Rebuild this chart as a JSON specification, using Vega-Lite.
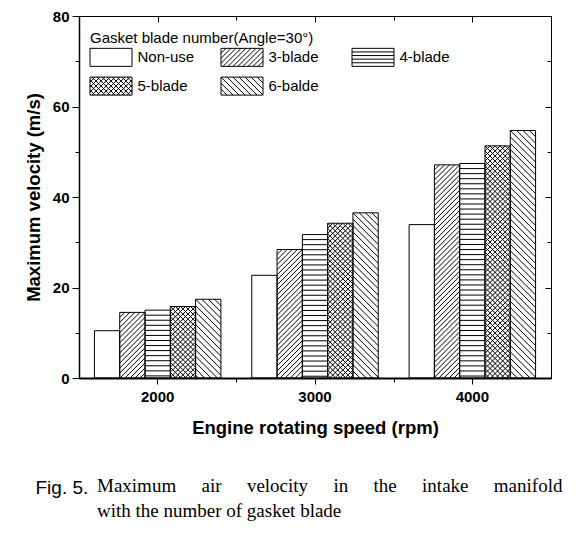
{
  "$schema": "https://vega.github.io/schema/vega-lite/v6.json",
  "autosize": "none",
  "padding": {"left": 79, "top": 16, "right": 31, "bottom": 155},
  "width": 472,
  "height": 362,
  "config": {
    "font": "Liberation Sans",
    "view": {"stroke": "black", "strokeWidth": 1}
  },
  "title": {
    "text": ["Maximum\u2003\u2004air\u2003\u2004velocity\u2003\u2004in\u2003\u2004the\u2003\u2004intake\u2003\u2004manifold", "with the number of gasket blade"],
    "orient": "bottom",
    "anchor": "start",
    "frame": "group",
    "dx": 18,
    "offset": -20,
    "font": "Liberation Serif",
    "fontSize": 19,
    "fontWeight": "normal",
    "color": "black",
    "lineHeight": 25
  },
  "data": {
    "values": [
      {"speed": 2000, "blade": "Non-use", "value": 10.45},
      {"speed": 2000, "blade": "3-blade", "value": 14.5},
      {"speed": 2000, "blade": "4-blade", "value": 15.0},
      {"speed": 2000, "blade": "5-blade", "value": 15.8},
      {"speed": 2000, "blade": "6-balde", "value": 17.4},
      {"speed": 3000, "blade": "Non-use", "value": 22.7},
      {"speed": 3000, "blade": "3-blade", "value": 28.4},
      {"speed": 3000, "blade": "4-blade", "value": 31.7},
      {"speed": 3000, "blade": "5-blade", "value": 34.2},
      {"speed": 3000, "blade": "6-balde", "value": 36.5},
      {"speed": 4000, "blade": "Non-use", "value": 33.9},
      {"speed": 4000, "blade": "3-blade", "value": 47.1},
      {"speed": 4000, "blade": "4-blade", "value": 47.4},
      {"speed": 4000, "blade": "5-blade", "value": 51.3},
      {"speed": 4000, "blade": "6-balde", "value": 54.7}
    ]
  },
  "resolve": {"scale": {"x": "independent", "y": "independent"}},
  "layer": [
    {
      "encoding": {
        "x": {
          "field": "speed", "type": "ordinal",
          "scale": {"type": "band", "paddingInner": 0, "paddingOuter": 0},
          "axis": {
            "title": "Engine rotating speed (rpm)",
            "titleFontSize": 18.5, "titleFontWeight": "bold", "titleColor": "black", "titlePadding": 14,
            "labelFontSize": 15, "labelFontWeight": "bold", "labelColor": "black", "labelAngle": 0, "labelPadding": 5,
            "tickSize": 6, "tickColor": "black", "tickWidth": 1,
            "domainColor": "black", "domainWidth": 2, "grid": false, "zindex": 1
          }
        },
        "xOffset": {
          "field": "blade", "type": "nominal",
          "scale": {"type": "band", "domain": ["Non-use", "3-blade", "4-blade", "5-blade", "6-balde"], "paddingInner": 0, "paddingOuter": 0.61}
        },
        "y": {
          "field": "value", "type": "quantitative",
          "scale": {"domain": [0, 80], "nice": false},
          "axis": {
            "title": "Maximum velocity (m/s)",
            "titleFontSize": 18.5, "titleFontWeight": "bold", "titleColor": "black", "titlePadding": 9,
            "values": [0, 20, 40, 60, 80],
            "labelFontSize": 15, "labelFontWeight": "bold", "labelColor": "black", "labelPadding": 3,
            "tickSize": 7, "tickColor": "black", "tickWidth": 1,
            "domainColor": "black", "domainWidth": 1.5, "grid": false, "zindex": 1
          }
        }
      },
      "layer": [
        {"mark": {"type": "bar", "fill": "white", "strokeWidth": 0}},
        {
          "transform": [{"filter": "datum.blade === '3-blade'"}],
          "mark": {"type": "point", "clip": true, "filled": false, "opacity": 1, "size": 4, "stroke": "black", "strokeWidth": 1,
            "shape": "M-12.65 5.06l5.06-5.06M-12.65 10.12l10.12-10.12M-12.65 15.18l15.18-15.18M-12.65 20.24l20.24-20.24M-12.65 25.3l25.3-25.3m-25.3 30.36l25.3-25.3m-25.3 30.36l25.3-25.3m-25.3 30.36l25.3-25.3m-25.3 30.36l25.3-25.3m-25.3 30.36l25.3-25.3m-25.3 30.36l25.3-25.3m-25.3 30.36l25.3-25.3m-25.3 30.36l25.3-25.3m-25.3 30.36l25.3-25.3m-25.3 30.36l25.3-25.3m-25.3 30.36l25.3-25.3m-25.3 30.36l25.3-25.3m-25.3 30.36l25.3-25.3m-25.3 30.36l25.3-25.3m-25.3 30.36l25.3-25.3m-25.3 30.36l25.3-25.3m-25.3 30.36l25.3-25.3m-25.3 30.36l25.3-25.3m-25.3 30.36l25.3-25.3m-25.3 30.36l25.3-25.3m-25.3 30.36l25.3-25.3m-25.3 30.36l25.3-25.3m-25.3 30.36l25.3-25.3m-25.3 30.36l25.3-25.3m-25.3 30.36l25.3-25.3m-25.3 30.36l25.3-25.3m-25.3 30.36l25.3-25.3m-25.3 30.36l25.3-25.3m-25.3 30.36l25.3-25.3m-25.3 30.36l25.3-25.3m-25.3 30.36l25.3-25.3m-25.3 30.36l25.3-25.3m-25.3 30.36l25.3-25.3m-25.3 30.36l25.3-25.3m-25.3 30.36l25.3-25.3m-25.3 30.36l25.3-25.3m-25.3 30.36l25.3-25.3m-25.3 30.36l25.3-25.3m-25.3 30.36l25.3-25.3m-25.3 30.36l25.3-25.3m-25.3 30.36l25.3-25.3m-25.3 30.36l25.3-25.3m-25.3 30.36l25.3-25.3m-25.3 30.36l25.3-25.3m-25.3 30.36l25.3-25.3m-25.3 30.36l25.3-25.3m-25.3 30.36l25.3-25.3m-25.3 30.36l25.3-25.3m-25.3 30.36l25.3-25.3m-25.3 30.36l25.3-25.3"}
        },
        {
          "transform": [{"filter": "datum.blade === '4-blade'"}],
          "mark": {"type": "point", "clip": true, "filled": false, "opacity": 1, "size": 4, "stroke": "black", "strokeWidth": 1,
            "shape": "M-12.65 5.06h25.3m-25.3 5.06h25.3m-25.3 5.06h25.3m-25.3 5.06h25.3m-25.3 5.06h25.3m-25.3 5.06h25.3m-25.3 5.06h25.3m-25.3 5.06h25.3m-25.3 5.06h25.3m-25.3 5.06h25.3m-25.3 5.06h25.3m-25.3 5.06h25.3m-25.3 5.06h25.3m-25.3 5.06h25.3m-25.3 5.06h25.3m-25.3 5.06h25.3m-25.3 5.06h25.3m-25.3 5.06h25.3m-25.3 5.06h25.3m-25.3 5.06h25.3m-25.3 5.06h25.3m-25.3 5.06h25.3m-25.3 5.06h25.3m-25.3 5.06h25.3m-25.3 5.06h25.3m-25.3 5.06h25.3m-25.3 5.06h25.3m-25.3 5.06h25.3m-25.3 5.06h25.3m-25.3 5.06h25.3m-25.3 5.06h25.3m-25.3 5.06h25.3m-25.3 5.06h25.3m-25.3 5.06h25.3m-25.3 5.06h25.3m-25.3 5.06h25.3m-25.3 5.06h25.3m-25.3 5.06h25.3m-25.3 5.06h25.3m-25.3 5.06h25.3m-25.3 5.06h25.3m-25.3 5.06h25.3m-25.3 5.06h25.3m-25.3 5.06h25.3m-25.3 5.06h25.3m-25.3 5.06h25.3"}
        },
        {
          "transform": [{"filter": "datum.blade === '5-blade'"}],
          "mark": {"type": "point", "clip": true, "filled": false, "opacity": 1, "size": 4, "stroke": "black", "strokeWidth": 1,
            "shape": "M-12.65 5.06l5.06-5.06M-12.65 10.12l10.12-10.12M-12.65 15.18l15.18-15.18M-12.65 20.24l20.24-20.24M-12.65 25.3l25.3-25.3m-25.3 30.36l25.3-25.3m-25.3 30.36l25.3-25.3m-25.3 30.36l25.3-25.3m-25.3 30.36l25.3-25.3m-25.3 30.36l25.3-25.3m-25.3 30.36l25.3-25.3m-25.3 30.36l25.3-25.3m-25.3 30.36l25.3-25.3m-25.3 30.36l25.3-25.3m-25.3 30.36l25.3-25.3m-25.3 30.36l25.3-25.3m-25.3 30.36l25.3-25.3m-25.3 30.36l25.3-25.3m-25.3 30.36l25.3-25.3m-25.3 30.36l25.3-25.3m-25.3 30.36l25.3-25.3m-25.3 30.36l25.3-25.3m-25.3 30.36l25.3-25.3m-25.3 30.36l25.3-25.3m-25.3 30.36l25.3-25.3m-25.3 30.36l25.3-25.3m-25.3 30.36l25.3-25.3m-25.3 30.36l25.3-25.3m-25.3 30.36l25.3-25.3m-25.3 30.36l25.3-25.3m-25.3 30.36l25.3-25.3m-25.3 30.36l25.3-25.3m-25.3 30.36l25.3-25.3m-25.3 30.36l25.3-25.3m-25.3 30.36l25.3-25.3m-25.3 30.36l25.3-25.3m-25.3 30.36l25.3-25.3m-25.3 30.36l25.3-25.3m-25.3 30.36l25.3-25.3m-25.3 30.36l25.3-25.3m-25.3 30.36l25.3-25.3m-25.3 30.36l25.3-25.3m-25.3 30.36l25.3-25.3m-25.3 30.36l25.3-25.3m-25.3 30.36l25.3-25.3m-25.3 30.36l25.3-25.3m-25.3 30.36l25.3-25.3m-25.3 30.36l25.3-25.3m-25.3 30.36l25.3-25.3m-25.3 30.36l25.3-25.3m-25.3 30.36l25.3-25.3m-25.3 30.36l25.3-25.3m-25.3 30.36l25.3-25.3m-25.3 30.36l25.3-25.3m-25.3 30.36l25.3-25.3M-7.59 0l20.24 20.24M-2.53 0l15.18 15.18M2.53 0l10.12 10.12M7.59 0l5.06 5.06M-12.65 0l25.3 25.3m-25.3-20.24l25.3 25.3m-25.3-20.24l25.3 25.3m-25.3-20.24l25.3 25.3m-25.3-20.24l25.3 25.3m-25.3-20.24l25.3 25.3m-25.3-20.24l25.3 25.3m-25.3-20.24l25.3 25.3m-25.3-20.24l25.3 25.3m-25.3-20.24l25.3 25.3m-25.3-20.24l25.3 25.3m-25.3-20.24l25.3 25.3m-25.3-20.24l25.3 25.3m-25.3-20.24l25.3 25.3m-25.3-20.24l25.3 25.3m-25.3-20.24l25.3 25.3m-25.3-20.24l25.3 25.3m-25.3-20.24l25.3 25.3m-25.3-20.24l25.3 25.3m-25.3-20.24l25.3 25.3m-25.3-20.24l25.3 25.3m-25.3-20.24l25.3 25.3m-25.3-20.24l25.3 25.3m-25.3-20.24l25.3 25.3m-25.3-20.24l25.3 25.3m-25.3-20.24l25.3 25.3m-25.3-20.24l25.3 25.3m-25.3-20.24l25.3 25.3m-25.3-20.24l25.3 25.3m-25.3-20.24l25.3 25.3m-25.3-20.24l25.3 25.3m-25.3-20.24l25.3 25.3m-25.3-20.24l25.3 25.3m-25.3-20.24l25.3 25.3m-25.3-20.24l25.3 25.3m-25.3-20.24l25.3 25.3m-25.3-20.24l25.3 25.3m-25.3-20.24l25.3 25.3m-25.3-20.24l25.3 25.3m-25.3-20.24l25.3 25.3m-25.3-20.24l25.3 25.3m-25.3-20.24l25.3 25.3m-25.3-20.24l25.3 25.3m-25.3-20.24l25.3 25.3m-25.3-20.24l25.3 25.3m-25.3-20.24l25.3 25.3m-25.3-20.24l25.3 25.3m-25.3-20.24l25.3 25.3m-25.3-20.24l25.3 25.3m-25.3-20.24l25.3 25.3"}
        },
        {
          "transform": [{"filter": "datum.blade === '6-balde'"}],
          "mark": {"type": "point", "clip": true, "filled": false, "opacity": 1, "size": 4, "stroke": "black", "strokeWidth": 1,
            "shape": "M-6.325 0l18.975 18.975M0 0l12.65 12.65M6.325 0l6.325 6.325M-12.65 0l25.3 25.3m-25.3-18.975l25.3 25.3m-25.3-18.975l25.3 25.3m-25.3-18.975l25.3 25.3m-25.3-18.975l25.3 25.3m-25.3-18.975l25.3 25.3m-25.3-18.975l25.3 25.3m-25.3-18.975l25.3 25.3m-25.3-18.975l25.3 25.3m-25.3-18.975l25.3 25.3m-25.3-18.975l25.3 25.3m-25.3-18.975l25.3 25.3m-25.3-18.975l25.3 25.3m-25.3-18.975l25.3 25.3m-25.3-18.975l25.3 25.3m-25.3-18.975l25.3 25.3m-25.3-18.975l25.3 25.3m-25.3-18.975l25.3 25.3m-25.3-18.975l25.3 25.3m-25.3-18.975l25.3 25.3m-25.3-18.975l25.3 25.3m-25.3-18.975l25.3 25.3m-25.3-18.975l25.3 25.3m-25.3-18.975l25.3 25.3m-25.3-18.975l25.3 25.3m-25.3-18.975l25.3 25.3m-25.3-18.975l25.3 25.3m-25.3-18.975l25.3 25.3m-25.3-18.975l25.3 25.3m-25.3-18.975l25.3 25.3m-25.3-18.975l25.3 25.3m-25.3-18.975l25.3 25.3m-25.3-18.975l25.3 25.3m-25.3-18.975l25.3 25.3m-25.3-18.975l25.3 25.3m-25.3-18.975l25.3 25.3m-25.3-18.975l25.3 25.3m-25.3-18.975l25.3 25.3m-25.3-18.975l25.3 25.3m-25.3-18.975l25.3 25.3m-25.3-18.975l25.3 25.3"}
        },
        {"mark": {"type": "bar", "fill": "transparent", "stroke": "black", "strokeWidth": 1}},
        {
          "mark": {"type": "point", "opacity": 0, "filled": false, "size": 4},
          "encoding": {
            "shape": {
              "field": "blade", "type": "nominal",
              "scale": {
                "domain": ["Non-use", "3-blade", "4-blade", "5-blade", "6-balde"],
                "range": [
                  "M-21-9h42v18h-42z",
                  "M-21-9h42v18h-42zM-21-4L-16-9M-21 1L-11-9M-21 6L-6-9M-19 9L-1-9M-14 9L4-9M-9 9L9-9M-4 9L14-9M1 9L19-9M6 9L21-6M11 9L21-1M16 9L21 4",
                  "M-21-9h42v18h-42zM-21-5.4H21M-21-1.8H21M-21 1.8H21M-21 5.4H21",
                  "M-21-9h42v18h-42zM-21-4L-16-9M-21 1L-11-9M-21 6L-6-9M-19 9L-1-9M-14 9L4-9M-9 9L9-9M-4 9L14-9M1 9L19-9M6 9L21-6M11 9L21-1M16 9L21 4M-21 4L-16 9M-21-1L-11 9M-21-6L-6 9M-19-9L-1 9M-14-9L4 9M-9-9L9 9M-4-9L14 9M1-9L19 9M6-9L21 6M11-9L21 1M16-9L21-4",
                  "M-21-9h42v18h-42zM-21 3L-15 9M-21-3L-9 9M-21-9L-3 9M-15-9L3 9M-9-9L9 9M-3-9L15 9M3-9L21 9M9-9L21 3M15-9L21-3"
                ]
              },
              "legend": {
                "title": "Gasket blade number(Angle=30°)",
                "orient": "none", "legendX": 11, "legendY": 14.6, "direction": "horizontal",
                "columns": 3, "gridAlign": "all", "columnPadding": 24, "rowPadding": 6,
                "padding": 0, "titlePadding": 4,
                "symbolSize": 4, "symbolOffset": 13.5, "labelOffset": 19,
                "symbolStrokeColor": "black", "symbolStrokeWidth": 1, "symbolFillColor": "transparent", "symbolOpacity": 1,
                "titleFont": "Liberation Sans", "titleFontSize": 15, "titleFontWeight": "normal", "titleColor": "black", "titleLimit": 400,
                "labelFont": "Liberation Sans", "labelFontSize": 15, "labelColor": "black", "labelLimit": 200,
                "encode": {"symbols": {"update": {"opacity": {"value": 1}, "strokeOpacity": {"value": 1}}}}
              }
            }
          }
        }
      ]
    },
    {
      "mark": {"type": "point", "opacity": 0},
      "encoding": {
        "x": {
          "field": "speed", "type": "quantitative",
          "scale": {"domain": [1500, 4500], "nice": false, "zero": false},
          "axis": {"orient": "top", "values": [2000, 2500, 3000, 3500, 4000], "labels": false, "domain": false, "title": null, "grid": false,
            "tickColor": "black", "tickSize": {"condition": {"test": "datum.value % 1000 === 0", "value": -6}, "value": -4}, "zindex": 1}
        },
        "y": {
          "field": "value", "type": "quantitative",
          "scale": {"domain": [0, 80], "nice": false},
          "axis": {"orient": "right", "values": [0, 10, 20, 30, 40, 50, 60, 70, 80], "labels": false, "domain": false, "title": null, "grid": false,
            "tickColor": "black", "tickSize": {"condition": {"test": "datum.value % 20 === 0", "value": -6}, "value": -4}, "zindex": 1}
        }
      }
    },
    {
      "mark": {"type": "point", "opacity": 0},
      "encoding": {
        "x": {
          "field": "speed", "type": "quantitative",
          "scale": {"domain": [1500, 4500], "nice": false, "zero": false},
          "axis": {"orient": "bottom", "values": [2500, 3500], "labels": false, "domain": false, "grid": false,
            "tickColor": "black", "tickSize": 4, "zindex": 1,
            "title": "Fig. 5.", "titleX": -44, "titleY": 109, "titleAlign": "left", "titleBaseline": "middle", "titleAngle": 0,
            "titleFont": "Liberation Sans", "titleFontSize": 19, "titleFontWeight": "normal", "titleColor": "black"}
        },
        "y": {
          "field": "value", "type": "quantitative",
          "scale": {"domain": [0, 80], "nice": false},
          "axis": {"orient": "left", "values": [10, 30, 50, 70], "labels": false, "domain": false, "title": null, "grid": false,
            "tickColor": "black", "tickSize": 4, "zindex": 1}
        }
      }
    }
  ]
}
